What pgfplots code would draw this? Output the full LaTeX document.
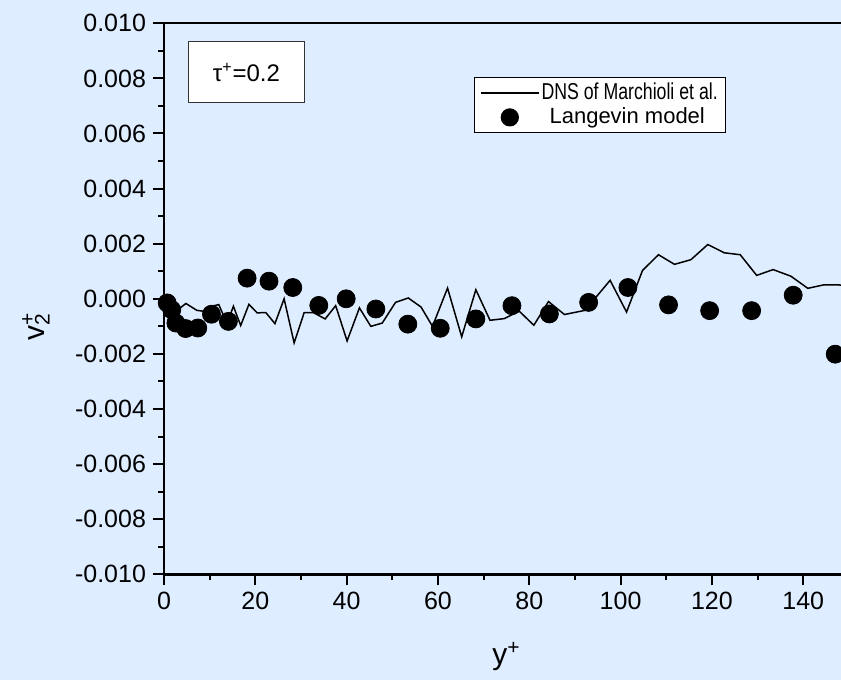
\documentclass[border=0pt]{standalone}
\usepackage{pgfplots}
\pgfplotsset{compat=1.18}
\usepackage{fontspec}
\setmainfont{Liberation Sans}
\newfontfamily\dnsfont[FakeStretch=0.77]{Liberation Sans}
\definecolor{bgblue}{RGB}{222,237,255}
\begin{document}
\begin{tikzpicture}
\path[use as bounding box, fill=bgblue] (0,0) rectangle (420.5pt,340pt);
\begin{axis}[
  at={(82pt,52.85pt)}, anchor=south west,
  width=342.45pt, height=275.5pt, scale only axis,
  xmin=0, xmax=150, ymin=-0.01, ymax=0.01,
  xtick={0,20,40,60,80,100,120,140},
  ytick={-0.010,-0.008,-0.006,-0.004,-0.002,0,0.002,0.004,0.006,0.008,0.010},
  yticklabels={-0.010,-0.008,-0.006,-0.004,-0.002,0.000,0.002,0.004,0.006,0.008,0.010},
  minor x tick num=1, minor y tick num=1,
  tick align=outside, xtick pos=left, ytick pos=left,
  major tick length=5.5pt, minor tick length=3pt,
  every tick/.style={black, line width=1pt},
  axis line style={line width=1.2pt},
  scaled y ticks=false,
  /pgf/number format/assume math mode=true,
  ticklabel style={font=\fontsize{12.5}{15}\selectfont},
  xlabel={y\textsuperscript{+}},
  xlabel style={font=\fontsize{15}{18}\selectfont, at={(axis description cs:0.5,-0.149)}, anchor=center},
  ylabel={v\rlap{\textsuperscript{+}}\textsubscript{2}},
  ylabel style={font=\fontsize{15}{18}\selectfont, at={(axis description cs:-0.187,0.449)}, anchor=center},
  legend style={at={(axis description cs:0.452,0.903)}, anchor=north west, draw=black, line width=0.5pt, fill=white,
    font=\fontsize{11}{13}\selectfont, inner xsep=3pt, inner ysep=1.5pt, row sep=-0.5pt,
    nodes={inner xsep=1pt, inner ysep=1.5pt}},
  legend cell align=left,
]
\addplot[black, line width=0.75pt, mark=none,
  legend image code/.code={\draw[black,line width=0.75pt] (0pt,0pt) -- (29pt,0pt);}]
coordinates {
(0.3,-0.0002) (1.5,-0.0006) (3.1,-0.00039) (4.8,-0.00017) (7.2,-0.00042) (8.6,-0.00045)
(10.4,-0.00027) (12.0,-0.00021) (13.8,-0.0009) (15.2,-0.00027) (16.8,-0.00097) (18.6,-0.0002)
(20.4,-0.00051) (22.3,-0.0005) (24.3,-0.0009) (26.3,0.0) (28.5,-0.0016) (30.7,-0.0005)
(32.7,-0.0005) (35.3,-0.00073) (37.6,-0.00025) (40.1,-0.00153) (42.8,-0.00033) (45.3,-0.001)
(47.8,-0.00088) (50.7,-0.00013) (53.5,0.00003) (56.3,-0.0003) (58.8,-0.001) (62.1,0.00039)
(65.2,-0.00138) (68.3,0.00033) (71.4,-0.00078) (74.5,-0.00072) (77.8,-0.00045) (81.0,-0.00096)
(84.2,-0.0001) (87.7,-0.00057) (92.2,-0.00042) (97.7,0.00067) (101.3,-0.00048) (104.8,0.00103)
(108.3,0.0016) (111.8,0.00125) (115.4,0.00142) (119.1,0.00197) (122.7,0.00167) (126.2,0.0016)
(129.8,0.00085) (133.4,0.00106) (137.3,0.00082) (141.0,0.00038) (144.6,0.00051) (148.3,0.0005)
(150,0.0005)
};
\addlegendentry{\dnsfont\fontsize{11.5}{13}\selectfont DNS of Marchioli et al.}
\addplot[only marks, mark=*, mark size=4.5pt, black, mark options={fill=black},
  legend image code/.code={\draw[black, only marks, mark=*, mark size=4.3pt, mark options={fill=black}] plot coordinates {(14.5pt,0pt)};}]
coordinates {
(0.7,-0.00015) (1.7,-0.0004) (2.6,-0.00088) (4.75,-0.00108) (7.4,-0.00106) (10.4,-0.00056)
(14.1,-0.00082) (18.2,0.00075) (23.0,0.00064) (28.2,0.00041) (33.9,-0.00024) (39.9,0.0)
(46.4,-0.00037) (53.4,-0.00092) (60.5,-0.00107) (68.3,-0.00073) (76.2,-0.00025) (84.4,-0.00055)
(93.0,-0.00013) (101.6,0.00041) (110.5,-0.00022) (119.5,-0.00043) (128.7,-0.00043) (137.8,0.00013)
(147.0,-0.00201)
};
\addlegendentry{\hspace{4pt}Langevin model}
\node[draw=black!80, fill=white, line width=0.5pt, minimum width=58.35pt, minimum height=30.5pt,
  font=\fontsize{12}{14}\selectfont, inner sep=0pt] at (axis description cs:0.1203,0.911) {τ\textsuperscript{+}=0.2};
\end{axis}
\end{tikzpicture}
\end{document}
